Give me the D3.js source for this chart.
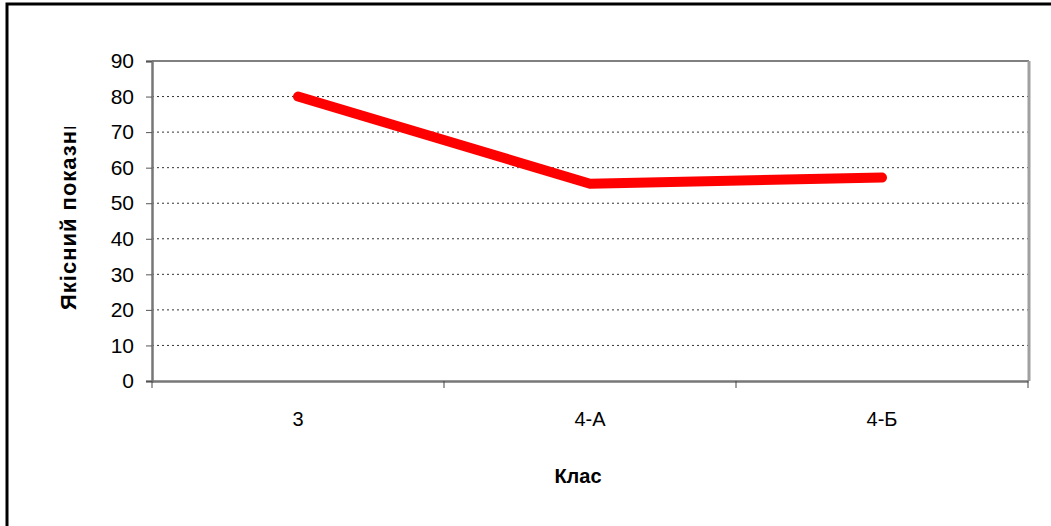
<!DOCTYPE html>
<html><head><meta charset="utf-8">
<script src="https://cdn.jsdelivr.net/npm/d3@7"></script>
<style>body{margin:0;background:#fff}svg{display:block}text{font-family:"Liberation Sans",Arial,sans-serif}</style>
</head><body>
<script>
const categories = ["3", "4-А", "4-Б"];
const values = [80, 55.5, 57.2];
const yTicks = [0,10,20,30,40,50,60,70,80,90];
const yTitle = "Якісний показник";
const xTitle = "Клас";

const W=1051,H=526;
const m={l:152,t:61,r:1028,b:381};
const svg=d3.select("body").append("svg").attr("width",W).attr("height",H);
// outer frame
svg.append("rect").attr("x",7).attr("y",4).attr("width",1060).attr("height",540).attr("fill","none").attr("stroke","#000").attr("stroke-width",3);

const x=d3.scaleBand().domain(categories).range([m.l,m.r]).padding(0);
const y=d3.scaleLinear().domain([0,90]).range([m.b,m.t]);

// gridlines
svg.append("g").selectAll("line").data(yTicks.filter(d=>d>0&&d<90)).join("line")
  .attr("x1",m.l).attr("x2",m.r).attr("y1",d=>y(d)).attr("y2",d=>y(d))
  .attr("stroke","#333").attr("stroke-width",1).attr("stroke-dasharray","2,3");

// plot border (top/right) with shadow
svg.append("line").attr("x1",m.l).attr("x2",m.r+1).attr("y1",m.t).attr("y2",m.t).attr("stroke","#808080").attr("stroke-width",2);
svg.append("line").attr("x1",m.r+1).attr("x2",m.r+1).attr("y1",m.t).attr("y2",m.b).attr("stroke","#a0a0a0").attr("stroke-width",3);

// y axis
const ya=svg.append("g").attr("transform",`translate(${m.l},0)`)
  .call(d3.axisLeft(y).tickValues(yTicks).tickSize(6).tickPadding(12));
ya.select(".domain").attr("stroke","#777").attr("stroke-width",2.5);
ya.selectAll(".tick line").attr("stroke","#555");
ya.selectAll("text").attr("font-size",21).attr("fill","#000");

// x axis
const xa=svg.append("g").attr("transform",`translate(0,${m.b})`)
  .call(d3.axisBottom(x).tickSize(0).tickPadding(31));
xa.select(".domain").attr("stroke","#777").attr("stroke-width",2.5);
xa.selectAll("text").attr("font-size",20).attr("fill","#000");
// boundary ticks
const bounds=categories.map(c=>x(c)).concat([m.r]);
svg.append("g").selectAll("line").data(bounds).join("line")
  .attr("x1",d=>d).attr("x2",d=>d).attr("y1",m.b).attr("y2",m.b+7).attr("stroke","#444").attr("stroke-width",1);

// line
const line=d3.line().x((d,i)=>x(categories[i])+x.bandwidth()/2).y(d=>y(d));
svg.append("path").datum(values).attr("d",line).attr("fill","none").attr("stroke","#ff0000")
  .attr("stroke-width",10).attr("stroke-linecap","round").attr("stroke-linejoin","round");

// titles
svg.append("clipPath").attr("id","yclip").attr("clipPathUnits","userSpaceOnUse")
  .append("rect").attr("x",40).attr("y",127).attr("width",60).attr("height",200);
svg.append("g").attr("clip-path","url(#yclip)")
  .append("text").attr("transform","translate(76,310) rotate(-90)").attr("text-anchor","start")
  .attr("font-size",22).attr("letter-spacing",1).attr("font-weight","bold").text(yTitle);
svg.append("text").attr("x",578).attr("y",483).attr("text-anchor","middle")
  .attr("font-size",20).attr("font-weight","bold").text(xTitle);
</script>
</body></html>
